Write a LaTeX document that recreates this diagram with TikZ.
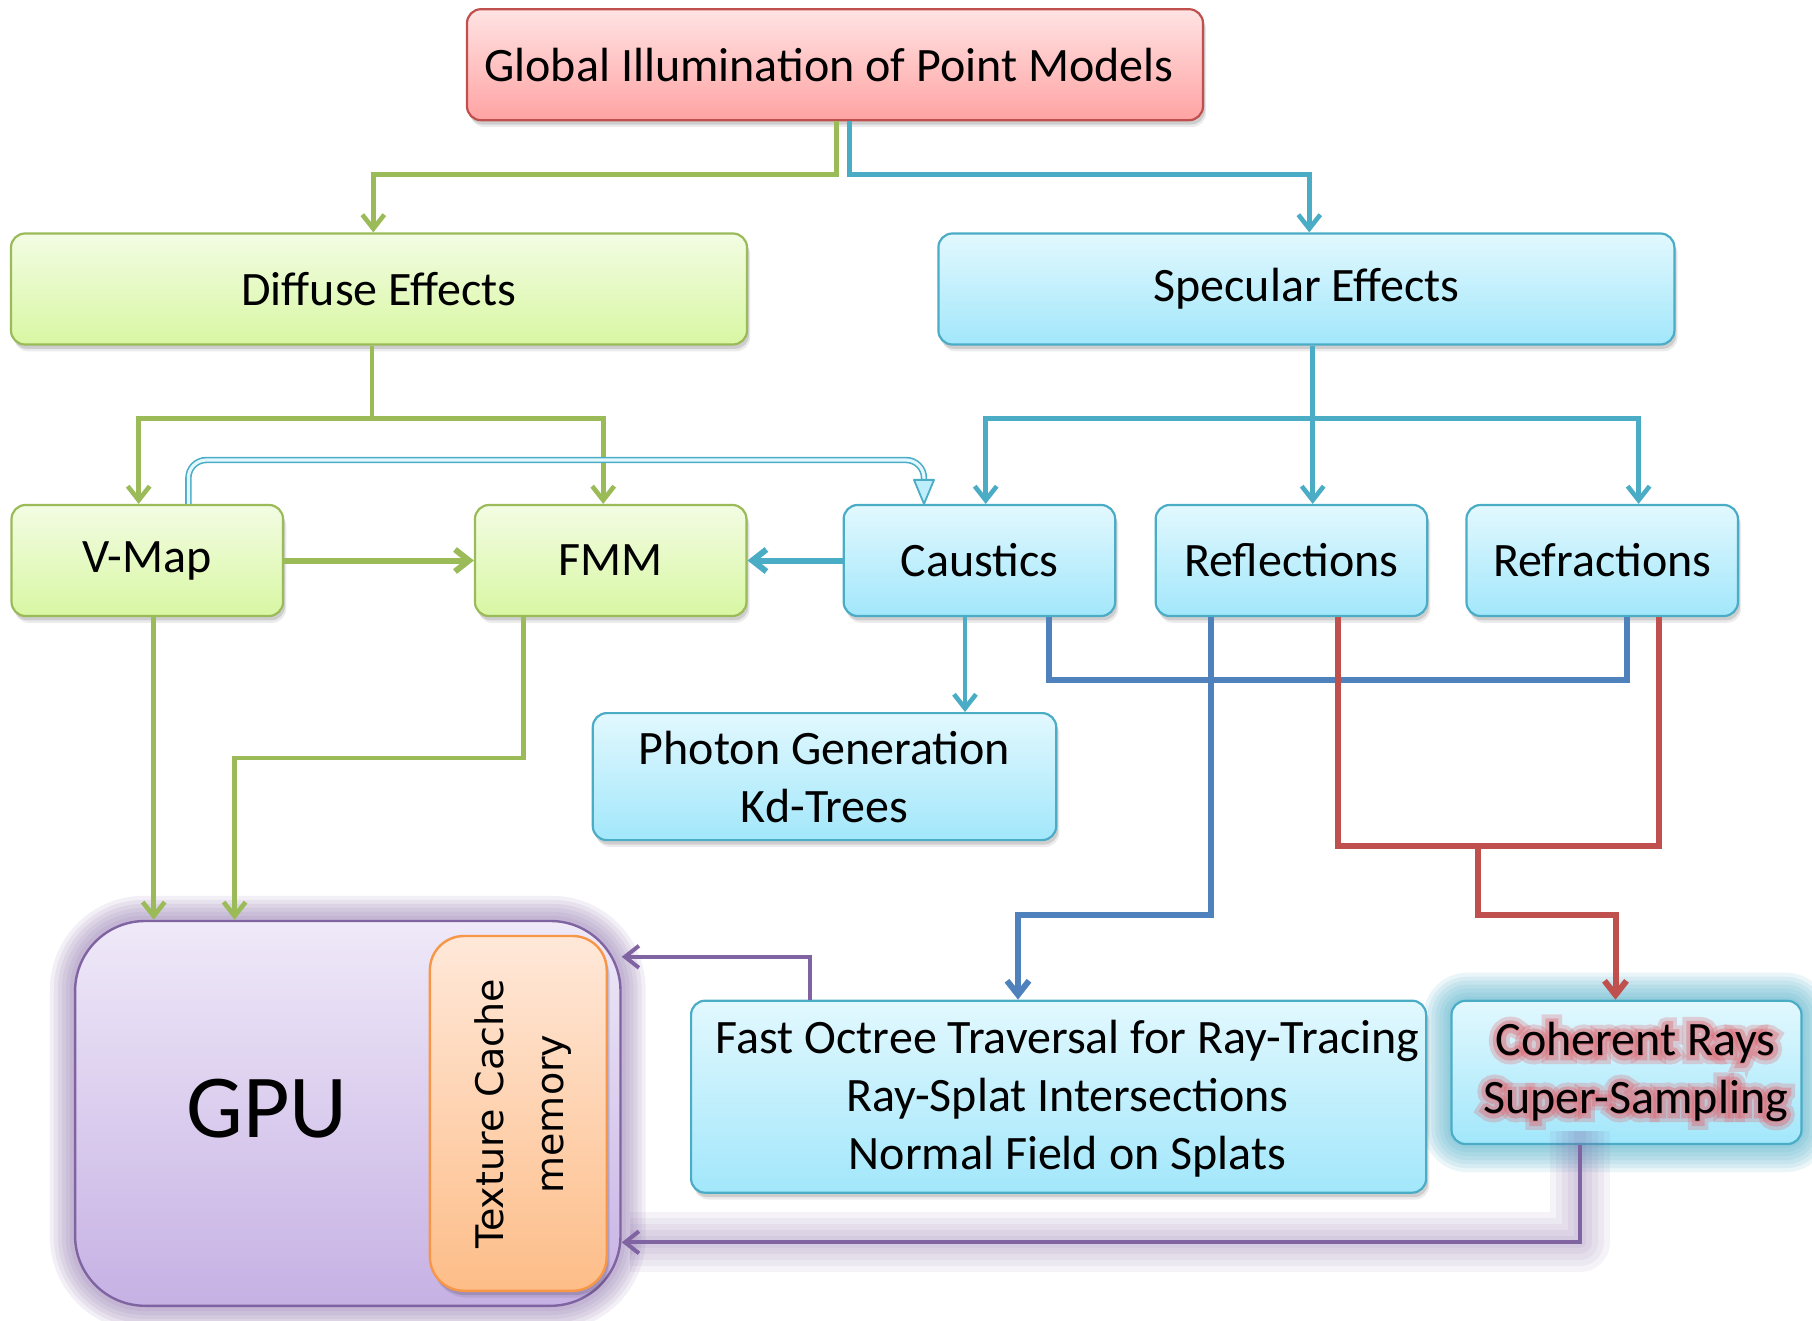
\documentclass[tikz,border=0pt]{standalone}
\usepackage{fontspec}
\setmainfont{Carlito}
\newfontfamily\cachefont{DejaVu Sans}
\newfontfamily\halowide[FakeBold=34]{Carlito}
\newfontfamily\halonarrow[FakeBold=18]{Carlito}
\usetikzlibrary{arrows.meta,shadows,calc,backgrounds}

\definecolor{olv}{HTML}{9BBB59}
\definecolor{aqua}{HTML}{4BACC6}
\definecolor{rd}{HTML}{C0504D}
\definecolor{halo}{HTML}{E06670}
\definecolor{dblue}{HTML}{4F81BD}
\definecolor{purp}{HTML}{8064A2}
\definecolor{orng}{HTML}{F79646}
\definecolor{gtop}{HTML}{F3FCE3}
\definecolor{gbot}{HTML}{D8F7A3}
\definecolor{btop}{HTML}{E2F8FE}
\definecolor{bbot}{HTML}{A2E7FB}
\definecolor{rtop}{HTML}{FFE3E3}
\definecolor{rbot}{HTML}{FFA3A3}
\definecolor{ptop}{HTML}{EFE9F8}
\definecolor{pbot}{HTML}{C6B1E4}
\definecolor{otop}{HTML}{FFE8D9}
\definecolor{obot}{HTML}{FDBD88}

\pgfdeclarelayer{halolayer}
\pgfsetlayers{background,halolayer,main}

\tikzset{
  softshadow/.style={
    general shadow={shadow xshift=1pt,shadow yshift=-2.2pt,fill=black,opacity=0.12},
    general shadow={shadow xshift=1.6pt,shadow yshift=-3.4pt,fill=black,opacity=0.08}},
  box/.style={rectangle, rounded corners=7pt, line width=1.1pt, inner sep=0pt,
    align=center, font=\fontsize{24}{29}\selectfont},
  gbox/.style={box, softshadow, draw=olv, top color=gtop, bottom color=gbot},
  bbox/.style={box, softshadow, draw=aqua, top color=btop, bottom color=bbot},
  rbox/.style={box, softshadow, draw=rd, top color=rtop, bottom color=rbot},
  wide/.style={minimum width=368pt, minimum height=55.5pt},
  small/.style={minimum width=135.75pt, minimum height=55.5pt},
  conn/.style={line width=2.3pt, line join=miter},
  barb/.style={-{Straight Barb[length=7pt,width=11pt]}},
  gline/.style={conn, draw=olv},
  garrow/.style={gline, barb},
  bline/.style={conn, draw=aqua},
  barrow/.style={bline, barb},
  dline/.style={conn, line width=3pt, draw=dblue},
  rline/.style={conn, line width=3pt, draw=rd},
  parrow/.style={conn, line width=2pt, draw=purp, barb},
  labelfont/.style={font=\fontsize{24}{29}\selectfont, align=center, inner sep=0pt},
}

\begin{document}
\begin{tikzpicture}[x=0.5pt,y=-0.5pt]
\useasboundingbox (0,0) rectangle (1812,1321);

% ---- boxes ----
\node[rbox, wide] (title) at (835,64.7) {Global Illumination of Point Models\hspace*{6pt}};
\node[gbox, wide] (diff) at (379,289) {Diffuse Effects};
\node[bbox, wide] (spec) at (1306.4,289) {Specular Effects};
\node[gbox, small] (vmap) at (147.3,560.5) {V-Map};
\node[gbox, small] (fmm) at (610.7,560.5) {FMM};
\node[bbox, small] (caus) at (979.4,560.5) {Caustics};
\node[bbox, small] (refl) at (1291.4,560.5) {Reflections};
\node[bbox, small] (refr) at (1602.2,560.5) {Refractions};
\node[bbox, minimum width=231.7pt, minimum height=63.5pt] (phot) at (824.5,776.6)
  {Photon Generation\\Kd-Trees};
\node[bbox, minimum width=367.5pt, minimum height=96pt] (oct) at (1058.6,1096.7) {};
\node[labelfont] (octtext) at (1067.5,1099)
  {Fast Octree Traversal for Ray-Tracing\\Ray-Splat Intersections\\Normal Field on Splats};

% GPU block with its cache
\node[draw=purp, line width=1.2pt, rounded corners=35pt, top color=ptop, bottom color=pbot,
  minimum width=272.7pt, minimum height=192.4pt] (gpu) at (347.8,1113.4) {};
\node[font=\fontsize{45}{54}\selectfont, inner sep=0pt] (gputext) at (267,1109) {GPU};
\node[draw=orng, line width=1.2pt, rounded corners=17pt, top color=otop, bottom color=obot,
  minimum width=88.4pt, minimum height=177.4pt, softshadow] (tex) at (518.3,1113.4) {};
\node[rotate=90, align=center, inner sep=0pt,
  font=\cachefont\fontsize{19}{30}\selectfont] (texlabel) at (523.5,1114)
  {Texture Cache\\memory};

% ---- glows, and the glowing coherent-rays box ----
\begin{pgfonlayer}{background}
  \foreach \w in {4,8,12,16,20,24}
    \draw[purp, line width=\w pt, opacity=0.10, rounded corners=35pt]
      (gpu.north west) rectangle (gpu.south east);
  \coordinate (cohnw) at (1451.4,1000.7);
  \coordinate (cohse) at (1801.6,1144.1);
  \foreach \w in {4,8,12,16,20,24,28}
    \draw[aqua, line width=\w pt, opacity=0.12, rounded corners=8pt]
      (cohnw) rectangle (cohse);
  \node[box, draw=aqua, top color=btop, bottom color=bbot,
    minimum width=175pt, minimum height=71.6pt] (coh) at (1626.5,1072.4) {};
\end{pgfonlayer}

% coherent-rays text with a soft red halo (emboldened strokes underneath)
\begin{pgfonlayer}{halolayer}
  \node[font=\halowide\fontsize{24}{29}\selectfont, align=center, inner sep=0pt,
    text=halo, opacity=0.28] (cohhaloA) at ($(coh.center)+(9,0)$)
    {Coherent Rays\\Super-Sampling};
  \node[font=\halonarrow\fontsize{24}{29}\selectfont, align=center, inner sep=0pt,
    text=halo, opacity=0.4] (cohhaloB) at ($(coh.center)+(9,0)$)
    {Coherent Rays\\Super-Sampling};
\end{pgfonlayer}
\node[labelfont] (cohtext) at ($(coh.center)+(9,0)$) {Coherent Rays\\Super-Sampling};

% ---- turn points ----
\coordinate (g1) at (836.6,174.5);
\coordinate (g2) at (373.3,174.5);
\coordinate (a1) at (849.4,174.5);
\coordinate (a2) at (1309.3,174.5);
\coordinate (g3) at (372,418.3);
\coordinate (g4) at (138.7,418.3);
\coordinate (g5) at (603.2,418.3);
\coordinate (a3) at (1312.7,418.3);
\coordinate (a4) at (985.7,418.3);
\coordinate (a5) at (1638.6,418.3);
\coordinate (v1) at (188.4,460);
\coordinate (v2) at (924,460);
\coordinate (c1) at (965,0);
\coordinate (d1) at (1049.3,680);
\coordinate (d2) at (1627.1,680);
\coordinate (b1) at (1211,915.2);
\coordinate (b2) at (1018,915.2);
\coordinate (r1) at (1338.2,845.9);
\coordinate (r2) at (1659.4,845.9);
\coordinate (r3) at (1478,845.9);
\coordinate (r4) at (1478,915.2);
\coordinate (r5) at (1615.5,915.2);
\coordinate (x1) at (153.7,0);
\coordinate (f1) at (523.5,758);
\coordinate (f2) at (234.6,758);
\coordinate (p1) at (810,956.8);
\coordinate (p2) at (1579.7,1242.3);

% ---- connectors ----
\draw[garrow] (title.south -| g1) -- (g1) -- (g2) -- (diff.north -| g2);
\draw[barrow] (title.south -| a1) -- (a1) -- (a2) -- (spec.north -| a2);

\draw[gline] (diff.south -| g3) -- (g3);
\draw[garrow] (g3) -- (g4) -- (vmap.north -| g4);
\draw[garrow] (g3) -- (g5) -- (fmm.north -| g5);

\draw[bline] (spec.south -| a3) -- (a3);
\draw[barrow] (a3) -- (a4) -- (caus.north -| a4);
\draw[barrow] (a3) -- (refl.north -| a3);
\draw[barrow] (a3) -- (a5) -- (refr.north -| a5);

% hollow link from V-Map to Caustics
\coordinate (v3) at ($(caus.north -| v2)+(0,-24)$);
\draw[aqua, line width=0.8pt, double=btop, double distance=1.6pt, rounded corners=9pt]
  (vmap.north -| v1) -- (v1) -- (v2) -- (v3);
\draw[aqua, fill=bbot!70!white, line width=0.9pt, line join=round]
  ($(v3)+(-10,0)$) -- ($(v3)+(10,0)$) -- (caus.north -| v2) -- cycle;

\draw[garrow, line width=3pt] (vmap.east) -- (fmm.west);
\draw[barrow, line width=3pt] (caus.west) -- (fmm.east);
\draw[barrow] (caus.south -| c1) -- (phot.north -| c1);

\draw[dline] (caus.south -| d1) -- (d1) -- (d2) -- (refr.south -| d2);
\draw[dline, barb] (refl.south -| b1) -- (b1) -- (b2) -- (oct.north -| b2);

\draw[rline] (refl.south -| r1) -- (r1) -- (r2) -- (refr.south -| r2);
\draw[rline, barb] (r3) -- (r4) -- (r5) -- (coh.north -| r5);

\draw[garrow] (vmap.south -| x1) -- (gpu.north -| x1);
\draw[garrow] (fmm.south -| f1) -- (f1) -- (f2) -- (gpu.north -| f2);

\draw[parrow] (oct.north -| p1) -- (p1) -- (gpu.east |- p1);

% glowing return path from the coherent-rays stage
\foreach \w in {6,12,18,24,30}
  \draw[purp, line width=\w pt, opacity=0.08, line join=round]
    ($(coh.south -| p2)+(0,-14)$) -- (p2) -- ($(gpu.east |- p2)+(8,0)$);
\draw[parrow] (coh.south -| p2) -- (p2) -- (gpu.east |- p2);
\end{tikzpicture}
\end{document}
